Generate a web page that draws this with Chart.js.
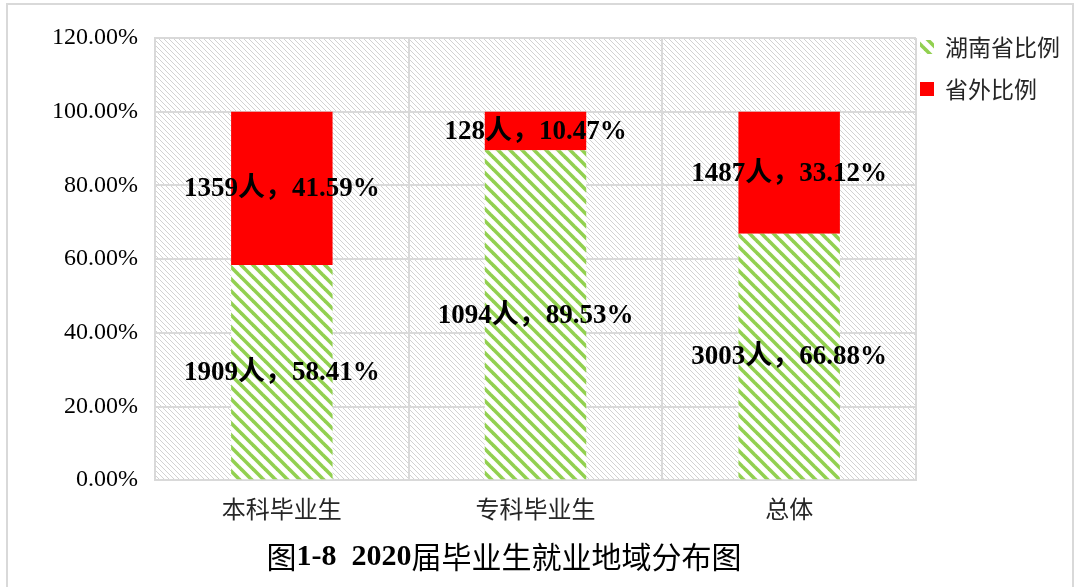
<!DOCTYPE html>
<html>
<head>
<meta charset="utf-8">
<script src="https://cdn.jsdelivr.net/npm/chart.js@4.4.0/dist/chart.umd.min.js"></script>
<style>
  html, body { margin: 0; padding: 0; background: #fff; }
  #wrap { width: 1074px; height: 587px; }
</style>
</head>
<body>
<div id="wrap"><canvas id="chart" width="1074" height="587"></canvas></div>
<script>
// ===== DATA =====
const categories   = ['本科毕业生', '专科毕业生', '总体'];
const seriesNames  = ['湖南省比例', '省外比例'];
const hunanPct     = [58.41, 89.53, 66.88];
const outsidePct   = [41.59, 10.47, 33.12];
const hunanCount   = [1909, 1094, 3003];
const outsideCount = [1359, 128, 1487];
const yMin = 0, yMax = 120, yStep = 20;
const titleParts = [['图', false], ['1-8  2020', true], ['届毕业生就业地域分布图', false]];

const GRID = '#d9d9d9';
const CJK = '"Noto Sans CJK SC"';
const SERIF = '"Liberation Serif"';

const canvas = document.getElementById('chart');
const mainCtx = canvas.getContext('2d');

// diagonal "\" stripes tile
function stripes(size, bg, fg, lw) {
  const c = document.createElement('canvas');
  c.width = c.height = size;
  const x = c.getContext('2d');
  x.fillStyle = bg; x.fillRect(0, 0, size, size);
  x.strokeStyle = fg; x.lineWidth = lw;
  for (let k = -1; k <= 1; k++) {
    x.beginPath();
    x.moveTo(k * size - size, -size);
    x.lineTo(k * size + 2 * size, 2 * size);
    x.stroke();
  }
  return mainCtx.createPattern(c, 'repeat');
}
const greenPattern = stripes(12, '#ffffff', '#92d050', 3.6);
const plotPattern  = stripes(5, '#ffffff', '#d2d2d2', 1);

// plot background + outer frame
const backdrop = {
  id: 'backdrop',
  beforeDraw(chart) {
    const { ctx, chartArea: a } = chart;
    ctx.save();
    ctx.fillStyle = '#fff';
    ctx.fillRect(0, 0, chart.width, chart.height);
    ctx.fillStyle = plotPattern;
    ctx.fillRect(a.left, a.top, a.right - a.left, a.bottom - a.top);
    ctx.strokeStyle = GRID; ctx.lineWidth = 2;
    ctx.strokeRect(7, 4, 1066, 700);
    ctx.restore();
  }
};

// "1359人，41.59%" inside each segment
const segLabels = {
  id: 'segLabels',
  afterDatasetsDraw(chart) {
    const { ctx } = chart;
    ctx.save();
    ctx.font = `bold 27px ${SERIF}, ${CJK}`;
    ctx.fillStyle = '#000';
    ctx.textAlign = 'center';
    ctx.textBaseline = 'middle';
    chart.data.datasets.forEach((ds, di) => {
      chart.getDatasetMeta(di).data.forEach((bar, i) => {
        const y = (bar.y + bar.base) / 2;
        ctx.fillText(`${ds.counts[i]}人，${ds.data[i].toFixed(2)}%`, bar.x, y + 1);
      });
    });
    ctx.restore();
  }
};

// legend on the right + caption at the bottom
const extras = {
  id: 'extras',
  afterDraw(chart) {
    const { ctx, chartArea: a } = chart;
    ctx.save();
    ctx.font = `23px ${CJK}`;
    ctx.textBaseline = 'middle';
    chart.data.datasets.forEach((ds, i) => {
      const cy = a.top + 9 + i * 42;
      ctx.fillStyle = ds.backgroundColor;
      ctx.fillRect(a.right + 4, cy - 7, 14, 14);
      ctx.fillStyle = '#262626';
      ctx.fillText(ds.label, a.right + 29, cy);
    });

    // caption with mixed fonts
    const fontOf = b => b ? `bold 30px ${SERIF}` : `30px ${CJK}`;
    let total = 0;
    titleParts.forEach(([t, b]) => { ctx.font = fontOf(b); total += ctx.measureText(t).width; });
    let x = 504 - total / 2;
    ctx.fillStyle = '#000';
    ctx.textAlign = 'left';
    titleParts.forEach(([t, b]) => {
      ctx.font = fontOf(b);
      ctx.fillText(t, x, 557);
      x += ctx.measureText(t).width;
    });
    ctx.restore();
  }
};

new Chart(canvas, {
  type: 'bar',
  data: {
    labels: categories,
    datasets: [
      { label: seriesNames[0], data: hunanPct,   counts: hunanCount,   backgroundColor: greenPattern,
        barPercentage: 0.4, categoryPercentage: 1 },
      { label: seriesNames[1], data: outsidePct, counts: outsideCount, backgroundColor: '#ff0000',
        barPercentage: 0.4, categoryPercentage: 1 }
    ]
  },
  options: {
    responsive: false,
    animation: false,
    devicePixelRatio: 1,
    layout: { padding: { left: 0, top: 38, right: 158, bottom: 50 } },
    plugins: { legend: { display: false }, tooltip: { enabled: false } },
    scales: {
      x: {
        stacked: true,
        grid: { color: GRID, lineWidth: 2, offset: true, drawTicks: false },
        border: { color: GRID, width: 2 },
        ticks: { color: '#262626', font: { family: CJK, size: 24 }, padding: 14 }
      },
      y: {
        stacked: true,
        min: yMin, max: yMax,
        grid: { color: GRID, lineWidth: 2, drawTicks: false },
        border: { color: GRID, width: 2 },
        ticks: { stepSize: yStep, color: '#000', padding: 17,
                 font: { family: SERIF, size: 24 },
                 callback: v => v.toFixed(2) + '%' },
        afterFit: s => { s.width = 155; }
      }
    }
  },
  plugins: [backdrop, segLabels, extras]
});
</script>
</body>
</html>
